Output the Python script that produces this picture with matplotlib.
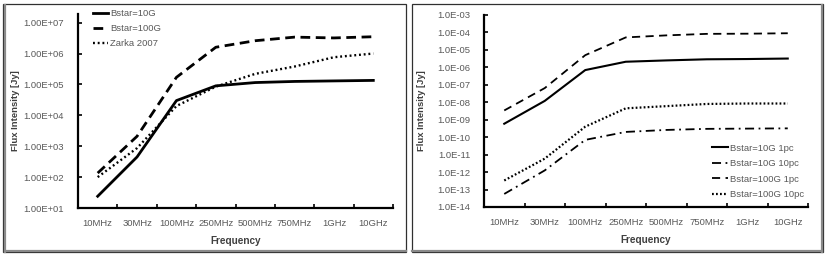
import matplotlib
matplotlib.use("Agg")
import matplotlib.pyplot as plt
from matplotlib.patches import Rectangle
import numpy as np

plt.rcParams['font.family'] = ['Liberation Sans Narrow', 'Liberation Sans', 'DejaVu Sans']

categories = ["10MHz", "30MHz", "100MHz", "250MHz", "500MHz", "750MHz", "1GHz", "10GHz"]

# Left chart
bstar10 = [24, 450, 3.0e4, 9.0e4, 1.15e5, 1.25e5, 1.3e5, 1.35e5]
bstar100 = [135, 2100, 1.7e5, 1.6e6, 2.6e6, 3.4e6, 3.2e6, 3.5e6]
zarka = [100, 870, 2.0e4, 8.5e4, 2.2e5, 3.8e5, 7.6e5, 1.0e6]

# Right chart
b10_1pc = [5.9e-10, 1.2e-8, 7.0e-7, 2.1e-6, 2.5e-6, 2.9e-6, 3.0e-6, 3.2e-6]
b10_10pc = [5.6e-14, 1.25e-12, 7.0e-11, 2.0e-10, 2.6e-10, 3.0e-10, 3.1e-10, 3.2e-10]
b100_1pc = [3.4e-9, 6.5e-8, 5.0e-6, 5.2e-5, 6.8e-5, 8.3e-5, 8.5e-5, 9.0e-5]
b100_10pc = [3.3e-13, 5.9e-12, 4.0e-10, 4.5e-9, 6.0e-9, 8.0e-9, 8.5e-9, 8.5e-9]

W, H = 830, 257
fig = plt.figure(figsize=(W / 100, H / 100), dpi=100)

def px_rect(x0, y0, x1, y1):
    return [x0 / W, 1 - y1 / H, (x1 - x0) / W, (y1 - y0) / H]

# Panel frames
for (x0, x1) in [(3, 406), (412, 823)]:
    fig.patches.append(Rectangle((x0 / W, 1 - 252 / H), (x1 - x0) / W, (252 - 4) / H,
                                 transform=fig.transFigure, fill=False,
                                 edgecolor='#303030', linewidth=0.9))
# gray shadows
fig.lines.append(plt.Line2D([5 / W, 5 / W], [1 - 252 / H, 1 - 5 / H], transform=fig.transFigure, color='#8a8a8a', lw=1.6))
fig.lines.append(plt.Line2D([5 / W, 406 / W], [1 - 251 / H, 1 - 251 / H], transform=fig.transFigure, color='#8a8a8a', lw=1.6))
fig.lines.append(plt.Line2D([822 / W, 822 / W], [1 - 252 / H, 1 - 5 / H], transform=fig.transFigure, color='#8a8a8a', lw=1.6))
fig.lines.append(plt.Line2D([412 / W, 822 / W], [1 - 251 / H, 1 - 251 / H], transform=fig.transFigure, color='#8a8a8a', lw=1.6))

tick_color = '#595959'
title_color = '#404040'
x = np.arange(len(categories))


def style_axes(ax, ylo, yhi, decades, fmt):
    ax.set_yscale('log')
    ax.set_ylim(ylo, yhi)
    ax.set_xlim(-0.5, len(categories) - 0.5)
    for s in ['top', 'right']:
        ax.spines[s].set_visible(False)
    for s in ['left', 'bottom']:
        ax.spines[s].set_linewidth(1.6)
        ax.spines[s].set_color('black')
    ax.set_xticks(np.arange(-0.5, len(categories), 1.0))
    ax.set_xticklabels([])
    ax.set_xticks(x, minor=True)
    ax.set_xticklabels(categories, minor=True)
    ax.tick_params(axis='x', which='major', direction='in', length=3, width=1.2, color='black')
    ax.tick_params(axis='x', which='minor', length=0, pad=8, labelsize=6.8, labelcolor=tick_color)
    ax.set_yticks(decades)
    ax.set_yticklabels([fmt(d) for d in decades])
    ax.yaxis.set_minor_locator(matplotlib.ticker.NullLocator())
    ax.tick_params(axis='y', which='major', direction='in', length=3, width=1.2, color='black',
                   labelsize=6.8, labelcolor=tick_color, pad=10)
    ax.set_xlabel('Frequency', fontsize=7.2, fontweight='bold', color=title_color, labelpad=6)


def fmt_left(d):
    e = int(round(np.log10(d)))
    return "1.00E{}{:02d}".format('+' if e >= 0 else '-', abs(e))


def fmt_right(d):
    e = int(round(np.log10(d)))
    return "1.0E{}{:02d}".format('+' if e >= 0 else '-', abs(e))


# Left axes
ax1 = fig.add_axes(px_rect(78, 14, 393, 208))
ax1.plot(x, bstar10, color='black', lw=2.0, solid_joinstyle='round', label='Bstar=10G')
ax1.plot(x, bstar100, color='black', lw=2.0, dashes=(3.5, 2.0), label='Bstar=100G')
ax1.plot(x, zarka, color='black', lw=1.7, dashes=(0.8, 1.2), label='Zarka 2007')
style_axes(ax1, 10, 10 ** 7.28, [10.0 ** k for k in range(1, 8)], fmt_left)
fig.text(15 / W, 1 - 111 / H, 'Flux Intensity [Jy]', rotation=90, ha='center', va='center',
         fontsize=6.8, fontweight='bold', color=title_color)
leg1 = ax1.legend(loc='upper left', bbox_to_anchor=(0.035, 1.045), frameon=False, fontsize=6.8,
                  handlelength=1.6, handletextpad=0.25, labelspacing=0.65, borderaxespad=0)
for t in leg1.get_texts():
    t.set_color(tick_color)

# Right axes
ax2 = fig.add_axes(px_rect(484, 15, 808, 207))
ax2.plot(x, b10_1pc, color='black', lw=1.5, label='Bstar=10G 1pc')
ax2.plot(x, b10_10pc, color='black', lw=1.3, dashes=(5, 2.5, 1, 2.5), label='Bstar=10G 10pc')
ax2.plot(x, b100_1pc, color='black', lw=1.3, dashes=(4.5, 3), label='Bstar=100G 1pc')
ax2.plot(x, b100_10pc, color='black', lw=1.6, dashes=(0.8, 1.0), label='Bstar=100G 10pc')
style_axes(ax2, 1e-14, 1e-3, [10.0 ** k for k in range(-14, -2)], fmt_right)
fig.text(421 / W, 1 - 111 / H, 'Flux Intensity [Jy]', rotation=90, ha='center', va='center',
         fontsize=6.8, fontweight='bold', color=title_color)
leg2 = ax2.legend(loc='lower right', bbox_to_anchor=(1.0, 0.02), frameon=False, fontsize=6.8,
                  handlelength=1.7, handletextpad=0.2, labelspacing=0.7, borderaxespad=0)
for t in leg2.get_texts():
    t.set_color(tick_color)

fig.savefig('out.png', dpi=100)
